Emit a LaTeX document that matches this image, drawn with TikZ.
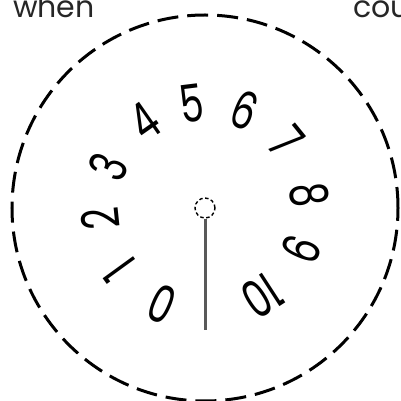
\documentclass[tikz,border=0pt]{standalone}
\usepackage{fontspec}
\setmainfont{Poppins}

\begin{document}
\begin{tikzpicture}[
    x=1pt, y=1pt,
    digit/.style={inner sep=0pt, font=\fontsize{52}{52}\selectfont},
    word/.style={inner sep=0pt, anchor=base west, font=\fontsize{30}{30}\selectfont, text=black!85},
    hand/.style={line width=3pt, draw=black!65}
]
\useasboundingbox (-205,-193) rectangle (195,208);

% Dial
\node[circle, draw, dashed, line width=3pt, dash pattern=on 21pt off 9pt, minimum size=386pt, inner sep=0pt] (dial) at (0,0) {};
\node[circle, draw, line width=1.4pt, dash pattern=on 3.5pt off 2.5pt, minimum size=20pt, inner sep=0pt] (hub) at (0,0) {};

% Numbers
\foreach \i/\ang in {0/246, 1/216, 2/186, 3/157, 4/125, 5/97, 6/68, 7/39, 8/7, 9/-23, 10/-57} {
  \node[digit, rotate=\ang-90] (n\i) at (\ang:105) {\scalebox{0.72}[1]{\i}};
}

% Hand
\coordinate (tip) at (0,-122);
\draw[hand] (hub.south) -- (tip);

% Words
\node[word] (when) at (-192,190) {when};
\node[word] (cou) at (148,190) {cou};

\end{tikzpicture}
\end{document}
